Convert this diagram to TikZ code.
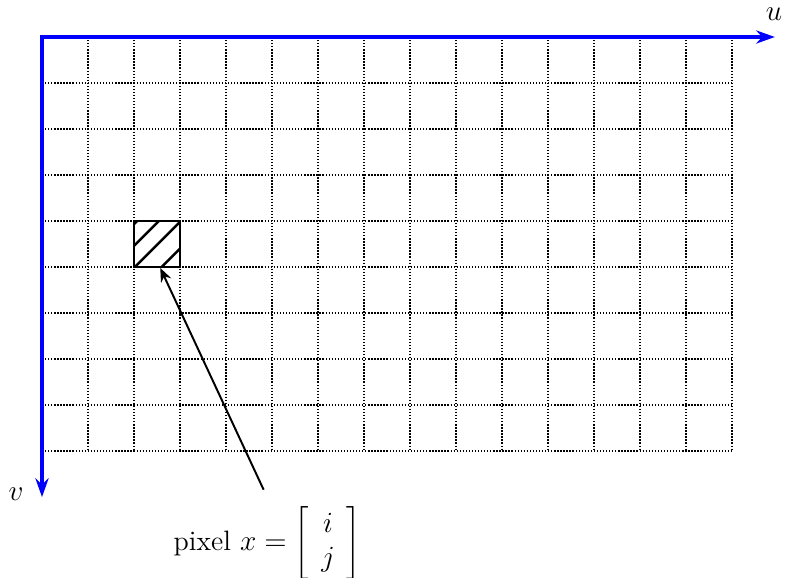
\documentclass[tikz,border=0pt]{standalone}
\usetikzlibrary{arrows.meta,positioning}
\begin{document}
\begin{tikzpicture}[x=0.663cm,y=-0.663cm,
    font=\fontsize{11.5}{14}\selectfont,
    gridln/.style={line width=0.8pt,dash pattern=on 0.55pt off 0.7pt},
    ax/.style={{Stealth[length=2.7mm,width=1.9mm]}-{Stealth[length=2.7mm,width=1.9mm]},blue,line width=1.6pt},
    cell/.style={rectangle,draw,line width=1.2pt,minimum size=0.663cm,inner sep=0pt},
    arr/.style={-{Stealth[length=2mm,width=1.6mm]},line width=0.8pt},
]
\useasboundingbox (-0.913,-0.804) rectangle (16.15,11.74);

% pixel grid
\foreach \i in {1,...,15} \draw[gridln] (\i,0) -- (\i,9);
\foreach \j in {1,...,9} \draw[gridln] (0,\j) -- (15,\j);

% hatched pixel
\begin{scope}
  \clip (2,4) rectangle (3,5);
  \foreach \c in {-0.6,-0.02,0.46,0.93}
    \draw[line width=1pt] (1,6-\c) -- (4,3-\c);
\end{scope}
\node[cell] (px) at (2.5,4.5) {};
\coordinate (tip) at (2.57,5.02);

% axes
\coordinate (o) at (0,0);
\coordinate (ue) at (15.93,0);
\coordinate (ve) at (0,10);
\draw[ax] (ue) -- (o) -- (ve);
\node (u) at (15.91,-0.5) {$u$};
\node (v) at (-0.565,9.93) {$v$};

% label
\node (lbl) at (4.9,11.0) {pixel $x=\left[\begin{array}{c} i\\ j\end{array}\right]$};
\draw[arr,shorten <=0.13cm] (lbl.north) -- (tip);
\end{tikzpicture}
\end{document}
